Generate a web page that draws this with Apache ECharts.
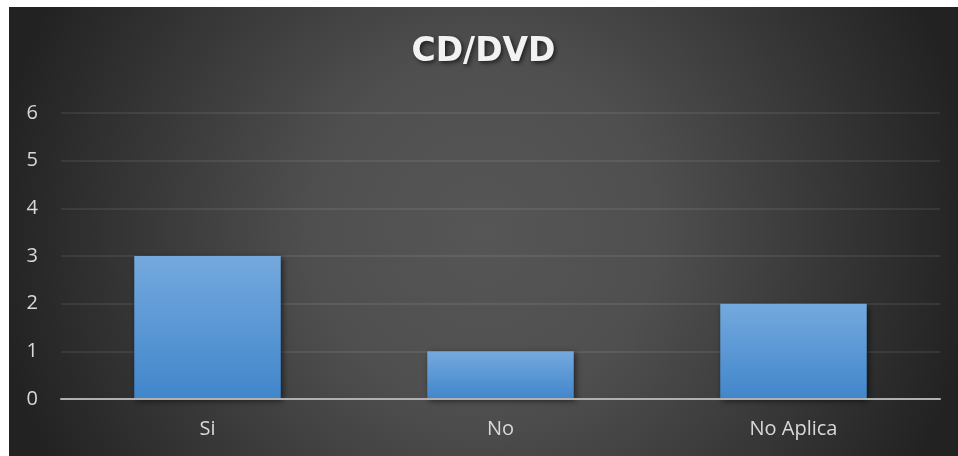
<!DOCTYPE html>
<html>
<head>
<meta charset="utf-8">
<script src="https://cdn.jsdelivr.net/npm/echarts@6/dist/echarts.min.js"></script>
<style>
  html, body { margin: 0; padding: 0; background: #ffffff; }
  #wrap { position: relative; width: 958px; height: 456px; background: #ffffff; }
  #chart { position: absolute; left: 9px; top: 7px; width: 949px; height: 449px; }
</style>
</head>
<body>
<div id="wrap"><div id="chart"></div></div>
<script>
  var categories = ['Si', 'No', 'No Aplica']
  var values = [3, 1, 2]
  var yMax = 6

  var chart = echarts.init(document.getElementById('chart'))
  chart.setOption({
    animation: false,
    backgroundColor: {
      type: 'radial', x: 0.5, y: 0.5, r: 1.1,
      colorStops: [
        {offset: 0, color: '#565656'},
        {offset: 0.35, color: '#4f4f4f'},
        {offset: 1, color: '#222222'}
      ]
    },
    title: {
      text: 'CD/DVD',
      left: 'center',
      top: 29,
      padding: 0,
      textStyle: {
        color: '#f2f2f2',
        fontFamily: 'DejaVu Sans',
        fontWeight: 'bold',
        fontSize: 33,
        textShadowColor: 'rgba(0,0,0,0.6)',
        textShadowBlur: 4,
        textShadowOffsetX: 2,
        textShadowOffsetY: 2
      }
    },
    grid: {
      left: 52,
      right: 18,
      top: 106,
      bottom: 57,
      containLabel: false
    },
    xAxis: {
      type: 'category',
      data: categories,
      z: 5,
      axisLine: {lineStyle: {color: '#b0b0b0', width: 2}},
      axisTick: {show: false},
      axisLabel: {
        color: '#d9d9d9',
        fontFamily: 'Open Sans',
        fontSize: 20,
        margin: 20
      }
    },
    yAxis: {
      type: 'value',
      min: 0,
      max: yMax,
      interval: 1,
      axisLine: {show: false},
      axisTick: {show: false},
      axisLabel: {
        color: '#d9d9d9',
        fontFamily: 'Open Sans',
        fontSize: 20,
        margin: 23
      },
      splitLine: {lineStyle: {color: 'rgba(255,255,255,0.1)', width: 1.5}}
    },
    series: [{
      type: 'bar',
      data: values,
      barWidth: '50%',
      itemStyle: {
        color: {
          type: 'linear', x: 0, y: 0, x2: 0, y2: 1,
          colorStops: [
            {offset: 0, color: '#74a9de'},
            {offset: 1, color: '#4186cb'}
          ]
        },
        shadowColor: 'rgba(0,0,0,0.55)',
        shadowBlur: 6,
        shadowOffsetX: 2,
        shadowOffsetY: 2
      }
    }]
  })
</script>
</body>
</html>
